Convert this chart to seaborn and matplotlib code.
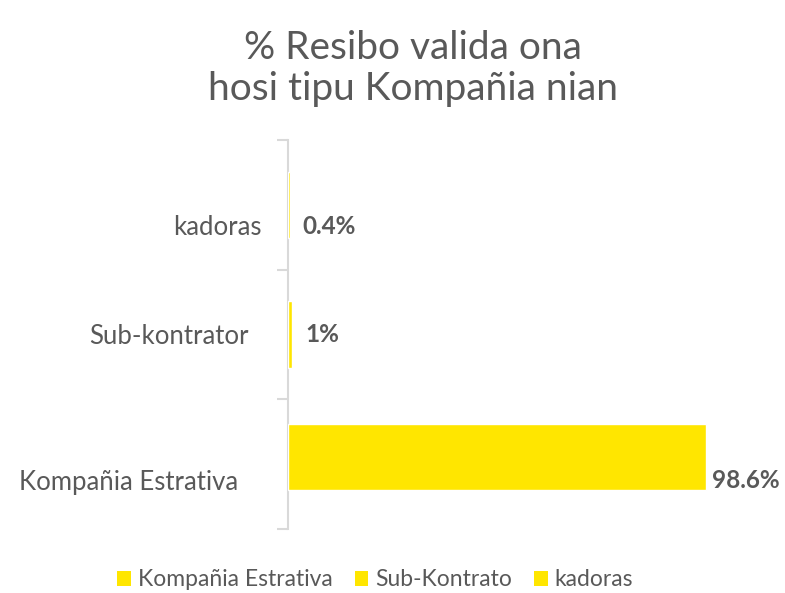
import matplotlib
matplotlib.use("Agg")
import matplotlib.pyplot as plt
import matplotlib.transforms as mtransforms
from matplotlib.patches import Patch
import seaborn as sns
import pandas as pd

# Data
categories = ["kadoras", "Sub-kontrator", "Kompañia Estrativa"]
values = [0.4, 1.0, 98.6]
value_labels = ["0.4%", "1%", "98.6%"]
legend_labels = ["Kompañia Estrativa", "Sub-Kontrato", "kadoras"]
title = "% Resibo valida ona\nhosi tipu Kompañia nian"

YELLOW = "#FFE600"
TEXT = "#595959"
GRID = "#D9D9D9"

sns.set_theme(style="white")
plt.rcParams["font.family"] = ["Lato", "DejaVu Sans"]

df = pd.DataFrame({"category": categories, "value": values})

fig = plt.figure(figsize=(7.85, 5.93), dpi=100)
ax = fig.add_axes([0.367, 0.108, 0.553, 0.656])

sns.barplot(data=df, y="category", x="value", order=categories,
            color=YELLOW, saturation=1, width=0.51, ax=ax, zorder=1)

# nudge bars within their bands
bar_shift = [0.0, 0.0, -0.055]
for patch, dy in zip(ax.patches, bar_shift):
    patch.set_y(patch.get_y() + dy)

ax.set_xlim(0, 102.4)
ax.set_ylim(2.5, -0.5)
ax.set_xlabel("")
ax.set_ylabel("")
ax.set_xticks([])

for s in ["top", "right", "bottom"]:
    ax.spines[s].set_visible(False)
ax.spines["left"].set_color(GRID)
ax.spines["left"].set_linewidth(1.5)
ax.spines["left"].set_zorder(0)

# band separators as outward ticks
ax.set_yticks([-0.5, 0.5, 1.5, 2.5], minor=True)
ax.tick_params(axis="y", which="minor", length=8, width=1.5, color=GRID, direction="out", left=True)
ax.tick_params(axis="y", which="major", length=0, pad=19, labelsize=18.5, labelcolor=TEXT)

# category label offsets (pixels at 100 dpi)
label_dx = [0, -13, -24]
label_dy = [-20, 0, -16]
for lab, dx, dy in zip(ax.get_yticklabels(), label_dx, label_dy):
    lab.set_transform(lab.get_transform() + mtransforms.ScaledTranslation(dx / 100, dy / 100, fig.dpi_scale_trans))

# value labels at bar ends
text_shift = [0.17, 0.0, 0.13]
for i, (v, t) in enumerate(zip(values, value_labels)):
    pad = 3.0 if v < 50 else 1.4
    ax.text(v + pad, i + text_shift[i], t, ha="left", va="center",
            fontsize=17.5, fontweight="bold", color=TEXT)

fig.suptitle(title, x=0.526, y=0.95, fontsize=28, color=TEXT, linespacing=1.2)

handles = [Patch(facecolor=YELLOW, edgecolor="none") for _ in legend_labels]
fig.legend(handles, legend_labels, loc="center", bbox_to_anchor=(0.478, 0.022),
           ncol=3, frameon=False, fontsize=16.5, labelcolor=TEXT,
           handlelength=0.6, handleheight=0.6, handletextpad=0.3, columnspacing=0.95)

fig.savefig("out.png", dpi=100, facecolor="white")
